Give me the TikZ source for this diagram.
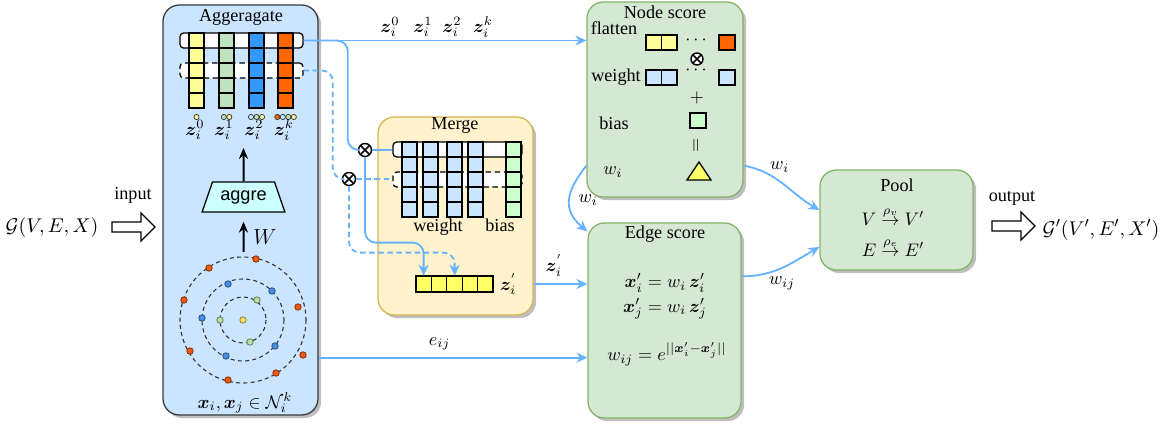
\documentclass[tikz,border=0pt]{standalone}
\usepackage{amsmath,amssymb}
\usepackage{fontspec}
\setmainfont{Liberation Serif}
\setsansfont{Liberation Sans}
\usepackage{bm}
\usepackage{tikz}
\usetikzlibrary{positioning, calc}
\usetikzlibrary{shapes.geometric}
\usetikzlibrary{shadows}
\usetikzlibrary{arrows.meta}

\definecolor{aggfill}{HTML}{CCE5FF}
\definecolor{aggline}{HTML}{36393D}
\definecolor{mergefill}{HTML}{FFF2CC}
\definecolor{mergeline}{HTML}{D6B656}
\definecolor{scorefill}{HTML}{D5E8D4}
\definecolor{scoreline}{HTML}{82B366}
\definecolor{linkblue}{HTML}{66B2FF}
\definecolor{zyellow}{HTML}{FFFF99}
\definecolor{zgreen}{HTML}{BFE3BF}
\definecolor{zblue}{HTML}{3399FF}
\definecolor{zorange}{HTML}{FF6600}
\definecolor{wblue}{HTML}{CCE5FF}
\definecolor{bgreen}{HTML}{CCFFCC}
\definecolor{vyellow}{HTML}{FFFF66}
\definecolor{aggrefill}{HTML}{CCFFFF}
\definecolor{dotyellow}{HTML}{FFE066}
\definecolor{dotgreen}{HTML}{B9E0A5}
\definecolor{dotblue}{HTML}{4A90E2}
\definecolor{dotorange}{HTML}{F05A14}

\newlength{\pxu}
\setlength{\pxu}{0.55pt}

\tikzset{
  panel/.style={draw, line width=0.7pt, rounded corners=9pt, inner sep=0pt,
    drop shadow={shadow xshift=1.7pt, shadow yshift=-1.7pt, fill=black!50, opacity=0.5}},
  cell/.style={draw, line width=0.7pt},
  dashline/.style={dash pattern=on 3pt off 2pt},
  vecrow/.style={draw, fill=white, line width=0.7pt, rounded corners=2pt, inner sep=0pt, minimum height=15*\pxu},
  otimes/.style={circle, draw, fill=white, line width=0.8pt, inner sep=0pt, minimum size=13*\pxu,
    path picture={\draw[line width=0.8pt] (path picture bounding box.north west) -- (path picture bounding box.south east)
      (path picture bounding box.north east) -- (path picture bounding box.south west);}},
  plain/.style={draw=linkblue, line width=1pt},
  link/.style={plain, -{Stealth[length=6pt, width=5.5pt]}},
  uparrow/.style={draw=black, line width=1.1pt, -{Stealth[length=6pt, width=5pt]}},
  ring/.style={draw=black!80, line width=0.6pt, dash pattern=on 2.2pt off 1.8pt},
  gdot/.style={fill=#1, draw=#1!60!black, line width=0.5pt},
  sdot/.style={fill=#1, draw=black!80, line width=0.4pt},
  aggrebox/.style={trapezium, draw, fill=aggrefill, line width=0.7pt, trapezium left angle=64, trapezium right angle=64,
    trapezium stretches=true, minimum width=83*\pxu, minimum height=30*\pxu, inner sep=1pt, font=\sffamily},
  fatarrow/.style={draw, line width=0.7pt, fill=white},
}

\begin{document}
\begin{tikzpicture}[x=0.55pt, y=-0.55pt, inner sep=1.5pt]
\useasboundingbox (0,0) rectangle (1166,428);

% panels
\node[panel, fill=aggfill, draw=aggline, minimum width=155*\pxu, minimum height=410*\pxu] (agg) at (240.5,210) {};
\node[panel, fill=mergefill, draw=mergeline, minimum width=155*\pxu, minimum height=198*\pxu] (merge) at (455.5,216) {};
\node[panel, fill=scorefill, draw=scoreline, minimum width=156*\pxu, minimum height=195*\pxu] (nscore) at (665,99.5) {};
\node[panel, fill=scorefill, draw=scoreline, minimum width=153*\pxu, minimum height=195*\pxu] (escore) at (664.5,320.5) {};
\node[panel, fill=scorefill, draw=scoreline, minimum width=153*\pxu, minimum height=100*\pxu] (pool) at (896.5,220) {};

\node (aggtitle) at (241,17) {Aggeragate};
\node (mergetitle) at (455,126) {Merge};
\node (nstitle) at (665,12) {Node score};
\node (estitle) at (665,234) {Edge score};
\node (pooltitle) at (897,185) {Pool};

% aggregate: hop vectors
\node[vecrow, minimum width=123*\pxu] (aggrow) at (241.5,40.5) {};
\node[vecrow, dashline, minimum width=123*\pxu] (aggrowd) at (241.5,70.5) {};
\foreach \cx/\cc in {189/zyellow, 219/zgreen, 249/zblue, 278/zorange}
  \foreach \k in {0,...,4}
    \draw[cell, fill=\cc] (\cx,33+15*\k) rectangle ++(15,15);
\foreach \dx/\dc in {196.5/zyellow, 223.8/zgreen, 229.3/zyellow, 251/wblue, 256.5/zgreen, 262/zyellow,
                     277.3/zorange, 282.8/wblue, 288.3/zgreen, 293.8/zyellow}
  \filldraw[sdot=\dc] (\dx,117) circle (2.6);
\node (z0) at (195,130) {$\bm{z}_i^0$};
\node (z1) at (224,130) {$\bm{z}_i^1$};
\node (z2) at (254,130) {$\bm{z}_i^2$};
\node (zk) at (284,130) {$\bm{z}_i^k$};

\node[aggrebox] (aggre) at (243.5,197) {aggre};
\coordinate (zhead) at (243.5,148);
\draw[uparrow] (aggre.north) -- (zhead);

% neighbourhood
\coordinate (gc) at (243,320);
\foreach \r in {23,41,63} \draw[ring] (gc) circle (\r);
\filldraw[gdot=dotyellow] (gc) circle (3.2);
\foreach \p in {(257,300),(220,320),(250,342)} \filldraw[gdot=dotgreen] \p circle (3.2);
\foreach \p in {(228,284),(272,291),(202,318),(275,346),(226,356)} \filldraw[gdot=dotblue] \p circle (3.2);
\foreach \p in {(209,268),(256,259),(184,300),(298,307),(190,351),(303,355),(276,373),(228,380)}
  \filldraw[gdot=dotorange] \p circle (3.2);
\coordinate (gtop) at (243.5,252);
\draw[uparrow, shorten >=5pt] (gtop) -- (aggre.south);
\node[font=\large] (wlab) at (265,237) {$W$};
\node (nbr) at (245,403) {$\bm{x}_i, \bm{x}_j \in \mathcal{N}_i^k$};

% merge
\node[vecrow, minimum width=129*\pxu] (mrow) at (457.5,149.5) {};
\node[vecrow, dashline, minimum width=129*\pxu] (mrowd) at (457.5,179.5) {};
\foreach \cx in {402,423,447,468}
  \foreach \k in {0,...,4}
    \draw[cell, fill=wblue] (\cx,142+15*\k) rectangle ++(15,15);
\foreach \k in {0,...,4}
  \draw[cell, fill=bgreen] (506,142+15*\k) rectangle ++(15,15);
\node[anchor=base] (wtext) at (438,232) {weight};
\node[anchor=base] (btext) at (500,232) {bias};
\node[inner sep=0pt, minimum width=77*\pxu, minimum height=16*\pxu] (zvec) at (454.5,284) {};
\foreach \k in {0,...,4}
  \draw[cell, fill=vyellow] (416+15.4*\k,276) rectangle ++(15.4,16);
\node[right=2pt of zvec] (zlab) {$\bm{z}^{'}_i$};
\node[otimes] (ot1) at (365,150) {};
\node[otimes] (ot2) at (349,179) {};

% node score
\node (flat) at (614,28) {flatten};
\foreach \k in {0,1} \draw[cell, fill=zyellow] (646+15.5*\k,35) rectangle ++(15.5,15);
\node (dots1) at (697.5,40) {$\cdots$};
\draw[cell, fill=zorange] (719,35) rectangle ++(16,15);
\node[otimes, minimum size=12*\pxu] (ot3) at (697,59) {};
\node (wgt) at (616,77) {weight};
\foreach \k in {0,1} \draw[cell, fill=wblue] (646+15.5*\k,70) rectangle ++(15.5,15);
\node (dots2) at (697.5,70) {$\cdots$};
\draw[cell, fill=wblue] (719,70) rectangle ++(16,15);
\node (plus) at (697,98) {$+$};
\node (bias2) at (614,123) {bias};
\draw[cell, fill=bgreen] (690,113) rectangle ++(16,15);
\node[rotate=90] (eqs) at (697,145) {$=$};
\node (wi) at (613,172) {$w_i$};
\draw[cell, fill=vyellow] (687,180) -- (711,180) -- (699,162) -- cycle;

% edge score
\node (eq1) at (665,283) {$\bm{x}_i' = w_i\,\bm{z}_i'$};
\node (eq2) at (665,309) {$\bm{x}_j' = w_i\,\bm{z}_j'$};
\node (eq3) at (667,354) {$w_{ij} = e^{||\bm{x}_i'-\bm{x}_j'||}$};

% pool
\node[inner sep=0.5pt] (pv) at (893,216) {$V \stackrel{\rho_v}{\rightarrow} V'$};
\node[inner sep=0.5pt] (pe) at (893,247) {$E \stackrel{\rho_e}{\rightarrow} E'$};

% input / output
\node[font=\fontsize{11}{13}\selectfont] (gin) at (52,228) {$\mathcal{G}(V,E,X)$};
\node (inlab) at (133,195) {input};
\draw[fatarrow] (112,222) -- (141,222) -- (141,213) -- (155,227) -- (141,241) -- (141,232) -- (112,232) -- cycle;
\node (outlab) at (1012,198) {output};
\draw[fatarrow] (992,221) -- (1021,221) -- (1021,212) -- (1035,226) -- (1021,240) -- (1021,231) -- (992,231) -- cycle;
\node[font=\fontsize{11}{13}\selectfont] (gout) at (1101,230) {$\mathcal{G}'(V',E',X')$};

% connectors
\draw[link] (aggrow.east) -- (aggrow.east -| nscore.west);
\node (zl0) at (390,27) {$\bm{z}_i^0$};
\node (zl1) at (423,27) {$\bm{z}_i^1$};
\node (zl2) at (452,27) {$\bm{z}_i^2$};
\node (zl3) at (483,27) {$\bm{z}_i^k$};
\draw[plain, rounded corners=6pt] (aggrow.east) -| ($(ot1.west)+(-10,0)$) -- (ot1.west);
\draw[plain] (ot1.east) -- (ot1.east -| mrow.west);
\draw[link, rounded corners=6pt] (ot1.south) |- ($(zvec.north west)+(8,-33)$) -- ($(zvec.north west)+(8,0)$);
\draw[plain, dashline, rounded corners=6pt] (aggrowd.east) -| ($(ot2.west)+(-9,0)$) -- (ot2.west);
\draw[plain, dashline] (ot2.east) -- (ot2.east -| mrowd.west);
\draw[link, dashline, rounded corners=6pt] (ot2.south) |- ($(zvec.north west)+(39,-23)$) -- ($(zvec.north west)+(39,0)$);

\draw[link] (zvec.east -| merge.east) -- node[above=2pt, pos=0.38] (zplab) {$\bm{z}^{'}_i$} (zvec.east -| escore.west);
\coordinate (eout) at ($(agg.south east)+(0,-58)$);
\draw[link] (eout) -- node[above=2pt, pos=0.45] (elab) {$e_{ij}$} (eout -| escore.west);

\coordinate (nsw) at ($(nscore.south west)+(0,-32)$);
\coordinate (esw) at ($(escore.north west)+(0,9)$);
\draw[link] (nsw) to[out=232, in=140, looseness=1.3] node[pos=0.5, right=3pt] (wlab1) {$w_i$} (esw);
\coordinate (nse) at ($(nscore.south east)+(0,-32)$);
\draw[link] (nse) to[out=-10, in=150] node[pos=0.45, above=3pt] (wlab2) {$w_i$} ($(pool.west)+(0,-10)$);
\coordinate (ese) at ($(escore.north east)+(0,54)$);
\draw[link] (ese) to[out=0, in=210] node[pos=0.5, below=3pt] (wlab3) {$w_{ij}$} ($(pool.west)+(0,27)$);
\end{tikzpicture}
\end{document}
